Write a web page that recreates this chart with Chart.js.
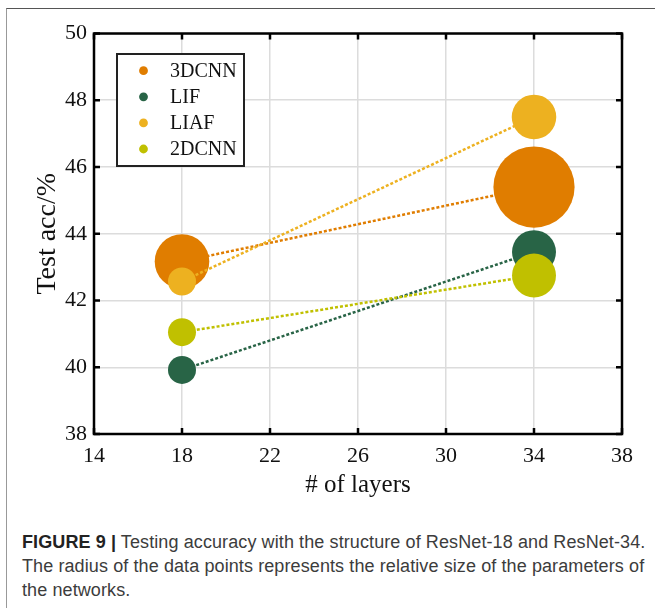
<!DOCTYPE html>
<html>
<head>
<meta charset="utf-8">
<script src="https://cdn.jsdelivr.net/npm/chart.js@4.4.1/dist/chart.umd.min.js"></script>
<style>
  html, body { margin: 0; padding: 0; background: #fff; }
  body { width: 655px; height: 608px; position: relative; overflow: hidden; }
  #frame { position: absolute; left: 6px; top: 8px; width: 700px; height: 700px;
           border-top: 1px solid #555; border-left: 1.5px solid #999; }
  #plot { position: absolute; left: 0; top: 0; }
  #caption { position: absolute; left: 22px; top: 530px; white-space: nowrap;
             font-family: "Liberation Sans", Arial, sans-serif; font-size: 18px;
             letter-spacing: 0.1px; line-height: 24px; color: #3c3c3c; }
  #caption b { color: #222; }
</style>
</head>
<body>
<div id="frame"></div>
<canvas id="plot" width="655" height="505"></canvas>
<div id="caption"><b>FIGURE 9 |</b> Testing accuracy with the structure of ResNet-18 and ResNet-34.<br>The radius of the data points represents the relative size of the parameters of<br>the networks.</div>
<script>
const layers = [18, 34];
const seriesNames = ['3DCNN', 'LIF', 'LIAF', '2DCNN'];
const acc3DCNN = [43.17, 45.4];
const accLIF = [39.92, 43.45];
const accLIAF = [42.57, 47.5];
const acc2DCNN = [41.05, 42.75];
// relative parameter size of each network (drawn as marker radius)
const size3DCNN = [1.95, 2.9];
const sizeLIF = [1, 1.57];
const sizeLIAF = [1, 1.59];
const size2DCNN = [1, 1.57];
const xTicks = [14, 18, 22, 26, 30, 34, 38];
const yTicks = [38, 40, 42, 44, 46, 48, 50];

const colors = ['rgb(224,125,0)', 'rgb(40,100,70)', 'rgb(237,177,32)', 'rgb(192,192,0)'];
const accs = [acc3DCNN, accLIF, accLIAF, acc2DCNN];
const sizes = [size3DCNN, sizeLIF, sizeLIAF, size2DCNN];
const BASE_R = 14;
const SERIF = '"Liberation Serif", "Times New Roman", serif';

let datasets = [];
for (let i = 0; i < seriesNames.length; ++i) {
  datasets.push({
    label: seriesNames[i],
    data: layers.map((x, j) => ({ x: x, y: accs[i][j] })),
    borderColor: colors[i],
    backgroundColor: colors[i],
    borderWidth: 2.5,
    borderDash: [3, 2],
    pointRadius: sizes[i].map(s => s * BASE_R),
    pointBorderWidth: 0,
    pointBackgroundColor: colors[i],
    order: seriesNames.length - i   // later series drawn on top
  });
}

// box, inward ticks and the legend inside the axes
const boxPlugin = {
  id: 'box',
  afterDraw(chart) {
    const ctx = chart.ctx;
    const a = chart.chartArea;
    const xs = chart.scales.x, ys = chart.scales.y;
    ctx.save();
    ctx.strokeStyle = '#000';
    ctx.lineWidth = 2.5;
    ctx.strokeRect(a.left, a.top, a.right - a.left, a.bottom - a.top);
    const TL = 6;
    ctx.beginPath();
    for (let t of xs.ticks) {
      let px = xs.getPixelForValue(t.value);
      ctx.moveTo(px, a.bottom); ctx.lineTo(px, a.bottom - TL);
      ctx.moveTo(px, a.top); ctx.lineTo(px, a.top + TL);
    }
    for (let t of ys.ticks) {
      let py = ys.getPixelForValue(t.value);
      ctx.moveTo(a.left, py); ctx.lineTo(a.left + TL, py);
      ctx.moveTo(a.right, py); ctx.lineTo(a.right - TL, py);
    }
    ctx.stroke();

    // legend
    const lx = 117, ly = 54, lw = 127, lh = 112;
    ctx.fillStyle = '#fff';
    ctx.fillRect(lx, ly, lw, lh);
    ctx.lineWidth = 2;
    ctx.strokeStyle = '#222';
    ctx.strokeRect(lx, ly, lw, lh);
    ctx.font = '20px ' + SERIF;
    ctx.textBaseline = 'middle';
    ctx.textAlign = 'left';
    chart.data.datasets.forEach((ds, i) => {
      let cy = ly + 16.7 + i * 26.1;
      ctx.fillStyle = ds.backgroundColor;
      ctx.beginPath();
      ctx.arc(lx + 26.5, cy, 4.4, 0, Math.PI * 2);
      ctx.fill();
      ctx.fillStyle = '#111';
      ctx.fillText(ds.label, lx + 53, cy + 1);
    });
    ctx.restore();
  }
};

new Chart(document.getElementById('plot'), {
  type: 'line',
  data: { datasets: datasets },
  options: {
    responsive: false,
    animation: false,
    devicePixelRatio: 1,
    layout: { autoPadding: false, padding: { top: 33.5, right: 33, left: 0, bottom: 0 } },
    plugins: { legend: { display: false }, tooltip: { enabled: false } },
    scales: {
      x: {
        type: 'linear',
        min: xTicks[0],
        max: xTicks[xTicks.length - 1],
        afterBuildTicks: s => { s.ticks = xTicks.map(v => ({ value: v })); },
        afterFit: s => { s.height = 71; s.paddingLeft = 0; s.paddingRight = 0; },
        grid: { color: '#dcdcdc', lineWidth: 1.5, drawTicks: false },
        border: { display: false },
        ticks: { padding: 9, color: '#111', font: { family: SERIF, size: 22 } },
        title: { display: true, text: '# of layers', color: '#111',
                 font: { family: SERIF, size: 25 }, padding: { top: 0, bottom: 5 } }
      },
      y: {
        type: 'linear',
        min: yTicks[0],
        max: yTicks[yTicks.length - 1],
        afterBuildTicks: s => { s.ticks = yTicks.map(v => ({ value: v })); },
        afterFit: s => { s.width = 94; s.paddingTop = 0; s.paddingBottom = 0; },
        grid: { color: '#dcdcdc', lineWidth: 1.5, drawTicks: false },
        border: { display: false },
        ticks: { padding: 7, color: '#111', font: { family: SERIF, size: 22 } },
        title: { display: true, text: 'Test acc/%', color: '#111',
                 font: { family: SERIF, size: 28 }, padding: { top: 31, bottom: 0 } }
      }
    }
  },
  plugins: [boxPlugin]
});
</script>
</body>
</html>
